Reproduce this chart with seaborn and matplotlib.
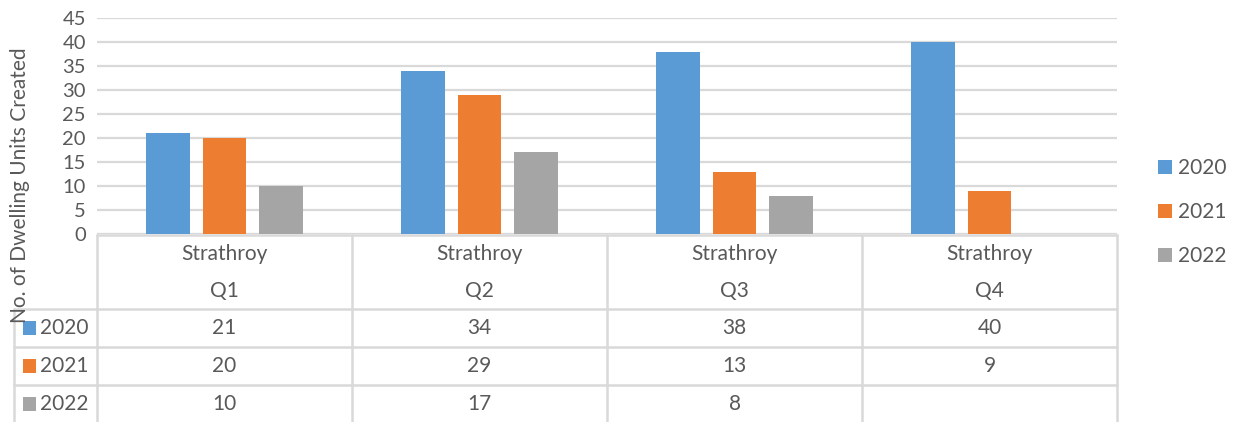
import numpy as np
import pandas as pd
import matplotlib.pyplot as plt
import matplotlib.transforms as mtransforms
from matplotlib.patches import Rectangle
import seaborn as sns

# -----------------------------
# Data
# -----------------------------
quarters = ["Q1", "Q2", "Q3", "Q4"]
town = "Strathroy"
years = ["2020", "2021", "2022"]
units_2020 = [21, 34, 38, 40]
units_2021 = [20, 29, 13, 9]
units_2022 = [10, 17, 8, np.nan]
colors = ["#5B9BD5", "#ED7D31", "#A5A5A5"]

df = pd.DataFrame({
    "quarter": quarters * 3,
    "year": [y for y in years for _ in quarters],
    "units": units_2020 + units_2021 + units_2022,
})

# -----------------------------
# Style
# -----------------------------
sns.set_style("white")
plt.rcParams["font.family"] = ["Lato", "DejaVu Sans"]
txt = "#595959"
line_c = "#D9D9D9"
fs = 15

W, H = 1236, 422
fig = plt.figure(figsize=(W / 100, H / 100), dpi=100)
ax = fig.add_axes([97 / W, 1 - 234 / H, (1117 - 97) / W, (234 - 18) / H])

sns.barplot(data=df, x="quarter", y="units", hue="year", order=quarters,
            hue_order=years, palette=colors, width=0.665, gap=0.23,
            linewidth=0, saturation=1, legend=True, ax=ax, zorder=3)

ax.set_ylim(0, 45)
ax.set_xlim(-0.5, 3.5)
ax.set_yticks(range(0, 46, 5))
ax.yaxis.grid(True, color=line_c, linewidth=1.6, zorder=0)
ax.set_axisbelow(True)
for s in ax.spines.values():
    s.set_visible(False)
ax.set_xticks([])
ax.set_xlabel("")
ax.set_ylabel("")
ax.tick_params(axis="y", length=0, pad=8, labelsize=14.5, labelcolor=txt)

# legend on the right
handles, labels = ax.get_legend_handles_labels()
ax.get_legend().remove()
fig.legend(handles, labels, loc="center left",
           bbox_to_anchor=(1158 / W, 1 - 212 / H), frameon=False,
           borderaxespad=0, borderpad=0,
           fontsize=fs, labelcolor=txt, handlelength=0.65, handleheight=0.65,
           handletextpad=0.3, labelspacing=1.15)

# y label
fig.text(20 / W, 1 - 185 / H, "No. of Dwelling Units Created", rotation=90,
         ha="center", va="center", fontsize=fs, color=txt)

# -----------------------------
# Data table under the chart
# -----------------------------
ov = fig.add_axes([0, 0, 1, 1], zorder=-1)
ov.set_xlim(0, W)
ov.set_ylim(H, 0)
ov.axis("off")
trans = mtransforms.blended_transform_factory(ax.transData, ov.transData)

top, hdr, r1, r2, bot = 235, 309, 347, 385, 423
lw = 1.8
# horizontal lines
ov.plot([-0.5, 3.5], [top, top], transform=trans, color=line_c, lw=lw)
for yy in [hdr, r1, r2]:
    ov.plot([14, 97], [yy, yy], color=line_c, lw=lw)
    ov.plot([-0.5, 3.5], [yy, yy], transform=trans, color=line_c, lw=lw)
# vertical lines
for i in range(len(quarters) + 1):
    ov.plot([i - 0.5, i - 0.5], [top, bot], transform=trans, color=line_c, lw=lw)
ov.plot([14, 14], [hdr, bot], color=line_c, lw=lw)

# header text
for i, q in enumerate(quarters):
    ov.text(i, 254, town, transform=trans, ha="center", va="center",
            fontsize=fs, color=txt)
    ov.text(i, 291, q, transform=trans, ha="center", va="center",
            fontsize=fs, color=txt)

# rows
rows = [units_2020, units_2021, units_2022]
row_y = [328, 366, 404]
for yr, vals, c, yy in zip(years, rows, colors, row_y):
    ov.add_patch(Rectangle((23, yy - 7), 13, 14, color=c, lw=0))
    ov.text(40, yy, yr, ha="left", va="center", fontsize=fs, color=txt)
    for i, v in enumerate(vals):
        if not np.isnan(v):
            ov.text(i, yy, str(int(v)), transform=trans, ha="center",
                    va="center", fontsize=fs, color=txt)

plt.savefig("out.png", dpi=100)
